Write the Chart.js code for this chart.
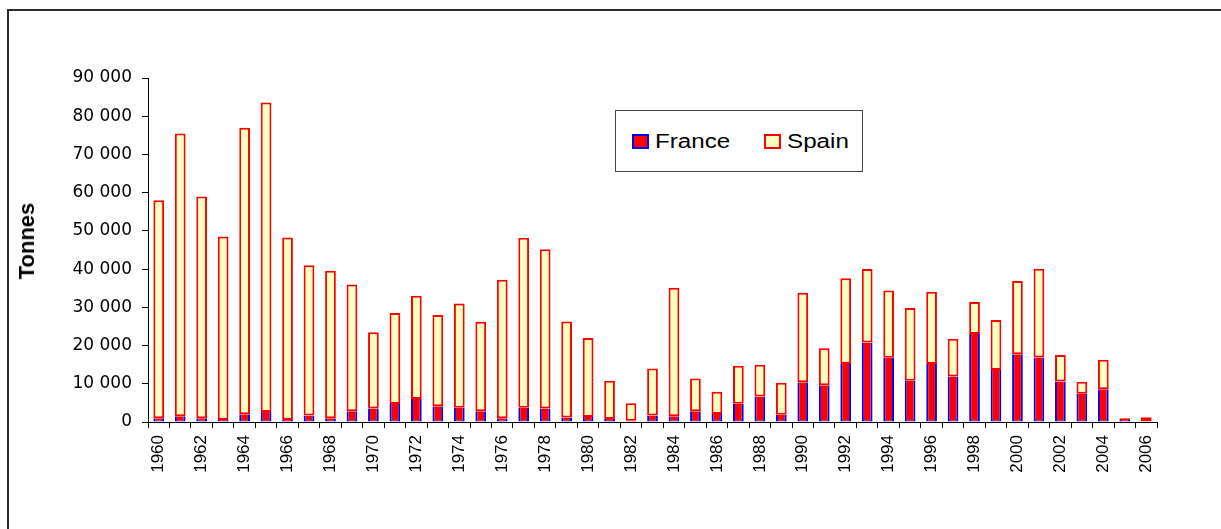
<!DOCTYPE html>
<html>
<head>
<meta charset="utf-8">
<script src="https://cdn.jsdelivr.net/npm/chart.js@4/dist/chart.umd.min.js"></script>
<style>
  html, body { margin: 0; padding: 0; background: #fff; overflow: hidden; width: 1221px; height: 529px; }
  #frame { position: absolute; left: 7px; top: 9px; width: 1400px; height: 700px; border: 2px solid #2a2a2a; box-sizing: border-box; }
  #c { position: absolute; left: 0; top: 0; }
  #ytitle { position: absolute; left: 27px; top: 241px; transform: translate(-50%, -50%) rotate(-90deg);
            font-family: "Liberation Sans", Arial, sans-serif; font-weight: bold; font-size: 22px; color: #000; white-space: nowrap; }
  #legend { position: absolute; left: 615px; top: 110px; width: 248px; height: 62px; border: 1px solid #444; box-sizing: border-box; background: #fff;
            font-family: "Liberation Sans", Arial, sans-serif; font-size: 19.5px; color: #000; }
  .item { position: absolute; top: 18px; height: 24px; line-height: 24px; white-space: nowrap; }
  .sw { position: absolute; top: 5px; width: 17px; height: 15px; box-sizing: border-box; border: 2px solid; }
  .lbl { position: absolute; left: 23px; top: 0; display: inline-block; transform: scaleX(1.24); transform-origin: left center; }
</style>
</head>
<body>
<div id="frame"></div>
<canvas id="c" width="1221" height="529"></canvas>
<div id="ytitle"></div>
<div id="legend">
  <div class="item" style="left:16px;"><span class="sw" style="background:#FF0000;border-color:#0000FF;"></span><span class="lbl" id="l0"></span></div>
  <div class="item" style="left:148px;"><span class="sw" style="background:#FFFFC0;border-color:#FF0000;"></span><span class="lbl" id="l1"></span></div>
</div>
<script>
const years = ["1960","1961","1962","1963","1964","1965","1966","1967","1968","1969",
               "1970","1971","1972","1973","1974","1975","1976","1977","1978","1979",
               "1980","1981","1982","1983","1984","1985","1986","1987","1988","1989",
               "1990","1991","1992","1993","1994","1995","1996","1997","1998","1999",
               "2000","2001","2002","2003","2004","2005","2006"];
const seriesNames = ["France", "Spain"];
const france = [1000,1500,1000,500,2000,2600,500,1700,1000,2800,
                3500,4700,6000,4100,3700,2800,1000,3700,3500,1200,
                1300,800,300,1700,1500,2800,2100,4800,6700,1900,
                10400,9600,15200,20800,16800,10800,15200,11900,23000,13600,
                17700,16900,10600,7400,8600,550,200];
const spain  = [57000,74000,58000,48000,75000,81000,47800,39300,38600,33200,
                20000,23800,27000,23900,27300,23400,36200,44500,41700,25100,
                20700,10000,4600,12300,33600,8600,5800,9900,8300,8400,
                23400,9700,22400,19200,17600,19000,18900,9900,8400,13100,
                19200,23200,6900,3100,7700,450,1050];
const yTicks = [0,10000,20000,30000,40000,50000,60000,70000,80000,90000];
const yTitle = "Tonnes";

document.getElementById('l0').textContent = seriesNames[0];
document.getElementById('l1').textContent = seriesNames[1];
document.getElementById('ytitle').textContent = yTitle;

function fmt(v) { return String(v).replace(/\B(?=(\d{3})+(?!\d))/g, ' '); }

new Chart(document.getElementById('c'), {
  type: 'bar',
  data: {
    labels: years,
    datasets: [
      { label: seriesNames[0], data: france, backgroundColor: '#FF0000', borderColor: '#0000FF',
        borderWidth: {left: 2, right: 2, bottom: 1, top: 0}, borderSkipped: false },
      { label: seriesNames[1], data: spain, backgroundColor: '#FFFFC0', borderColor: '#FF0000',
        borderWidth: 2, borderSkipped: false }
    ]
  },
  options: {
    responsive: false,
    animation: false,
    devicePixelRatio: 1,
    layout: { padding: { left: 10, top: 78, right: 64, bottom: 0 } },
    datasets: { bar: { categoryPercentage: 1.0, barPercentage: 0.5 } },
    plugins: { legend: { display: false }, tooltip: { enabled: false } },
    scales: {
      x: {
        stacked: true,
        offset: true,
        grid: { display: true, offset: true, drawOnChartArea: false, drawTicks: true, tickLength: 6, color: '#000' },
        border: { display: true, color: '#000', width: 1 },
        ticks: {
          autoSkip: false, maxRotation: 90, minRotation: 90, padding: 7,
          color: '#000', font: { family: '"Liberation Sans", Arial, sans-serif', size: 17 },
          callback: function(v, i) { return i % 2 === 0 ? years[i] : ''; }
        },
        afterFit: function(s) { s.height = 107; }
      },
      y: {
        stacked: true,
        min: 0, max: 90000,
        afterBuildTicks: function(s) { s.ticks = yTicks.map(v => ({ value: v })); },
        grid: { display: true, drawOnChartArea: false, drawTicks: true, tickLength: 6, color: '#000' },
        border: { display: true, color: '#000', width: 1 },
        ticks: {
          padding: 10, color: '#000',
          font: { family: '"DejaVu Sans", sans-serif', size: 17 },
          callback: function(v) { return fmt(v); }
        },
        title: { display: false },
        afterFit: function(s) { s.width = 138; }
      }
    }
  }
});
</script>
</body>
</html>
